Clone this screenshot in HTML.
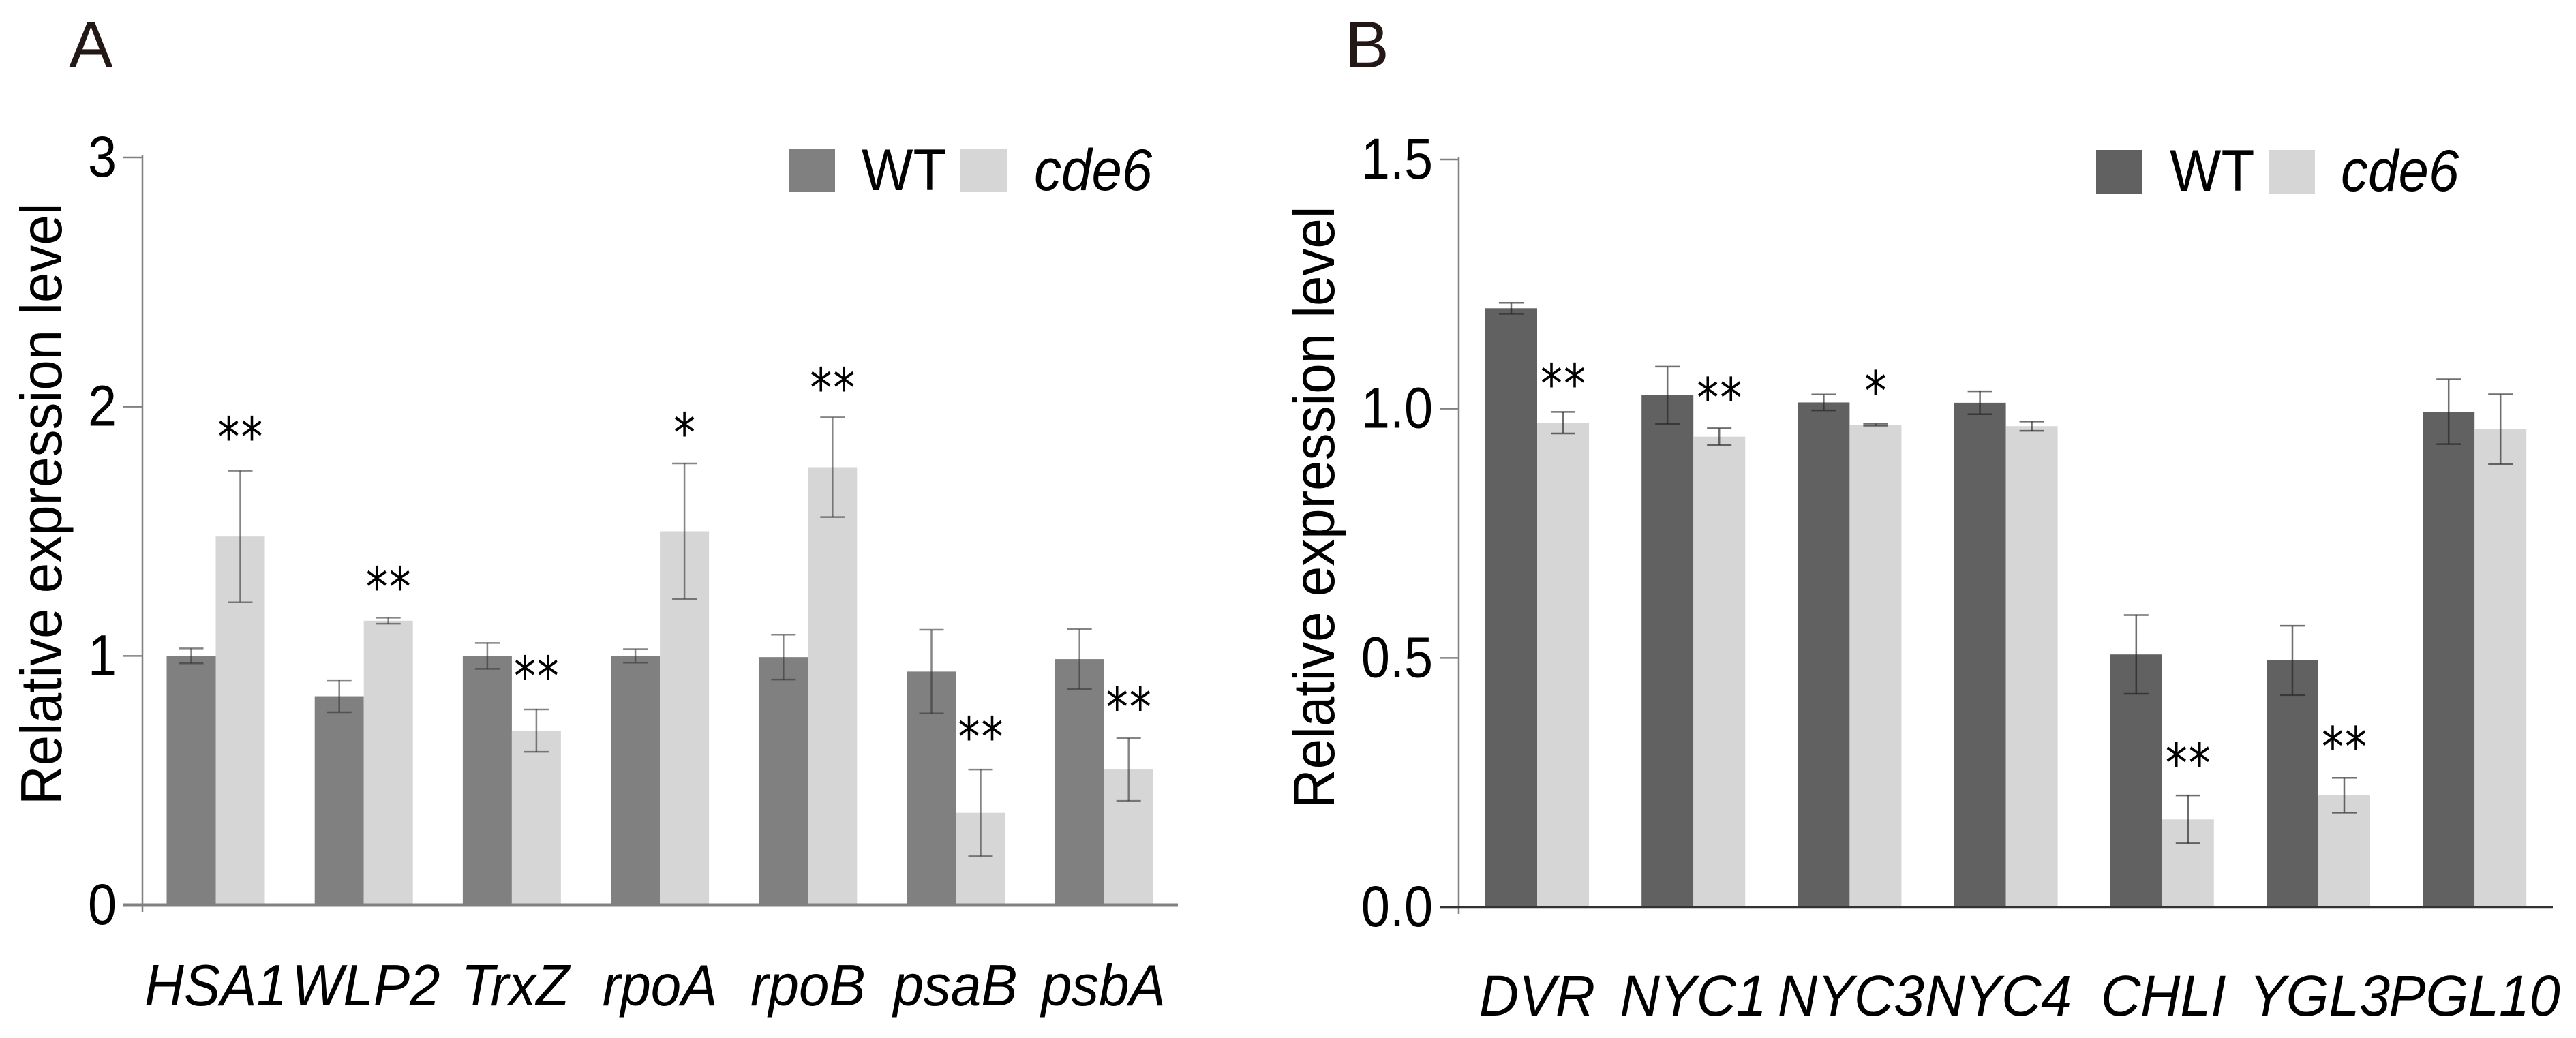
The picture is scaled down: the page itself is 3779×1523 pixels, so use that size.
<!DOCTYPE html>
<html lang="en">
<head>
<meta charset="utf-8">
<title>Relative expression level of WT and cde6</title>
<style>
html,body{margin:0;padding:0;background:#fff;}
svg{display:block;}
text{font-family:"Liberation Sans",Arial,sans-serif;fill:#000;}
</style>
</head>
<body>
<svg id="chart" xmlns="http://www.w3.org/2000/svg" width="3779" height="1523" viewBox="0 0 3779 1523">
  <rect x="0" y="0" width="3779" height="1523" fill="#ffffff"/>
  <text x="101" y="99" font-size="97" style="fill:#231815">A</text>
  <text x="1973" y="99" font-size="97" style="fill:#231815">B</text>
  <g id="panel-a"></g>
  <g id="panel-b"></g>
</svg>
<script>
// Panel A data
const categoriesA = ['HSA1','WLP2','TrxZ','rpoA','rpoB','psaB','psbA'];
const wtValuesA = [1.0,0.838,1.0,1.0,0.995,0.937,0.987];
const cde6ValuesA = [1.479,1.141,0.70,1.50,1.757,0.37,0.544];
const wtErrorsA = [0.03,0.064,0.052,0.027,0.09,0.168,0.12];
const cde6ErrorsA = [0.264,0.012,0.085,0.272,0.20,0.174,0.126];
const starsA = ['**','**','**','*','**','**','**'];
const starLevelsA = [1.913,1.311,0.953,1.93,2.11,0.71,0.828];
const yTicksA = [0,1,2,3];
const yTickLabelsA = ['0','1','2','3'];

// Panel B data
const categoriesB = ['DVR','NYC1','NYC3','NYC4','CHLI','YGL3','PGL10'];
const wtValuesB = [1.2015,1.027,1.0126,1.012,0.507,0.495,0.994];
const cde6ValuesB = [0.972,0.944,0.968,0.965,0.176,0.2245,0.959];
const wtErrorsB = [0.011,0.0575,0.016,0.023,0.079,0.0695,0.065];
const cde6ErrorsB = [0.0216,0.0167,0.002,0.0094,0.048,0.035,0.07];
const starsB = ['**','**','*','','**','**',''];
const starLevelsB = [1.067,1.039,1.053,0,0.306,0.339,0];
const yTicksB = [0,0.5,1.0,1.5];
const yTickLabelsB = ['0.0','0.5','1.0','1.5'];

const NS = 'http://www.w3.org/2000/svg';

function shape(parent, tag, props) {
  const el = document.createElementNS(NS, tag);
  for (const k in props) el.setAttribute(k, props[k]);
  parent.appendChild(el);
  return el;
}

function label(parent, str, x, y, size, sx, anchor, italic) {
  const el = document.createElementNS(NS, 'text');
  el.setAttribute('transform', 'translate(' + x + ',' + y + ') scale(' + sx + ',1)');
  el.setAttribute('font-size', size);
  el.setAttribute('text-anchor', anchor);
  if (italic) el.setAttribute('font-style', 'italic');
  el.textContent = str;
  parent.appendChild(el);
  return el;
}

function drawPanel(root, cfg, categories, wtValues, cde6Values, wtErrors, cde6Errors, stars, starLevels, yTicks, yTickLabels) {
  const yScale = v => cfg.y0 - (v / cfg.yMax) * (cfg.y0 - cfg.yTop);
  const xBand = i => cfg.xStart + i * cfg.step;

  // bars
  categories.forEach((cat, i) => {
    const x1 = xBand(i);
    const x2 = x1 + cfg.barW;
    const wtBar = shape(root, 'rect', {x: x1, y: yScale(wtValues[i]), width: cfg.barW, height: cfg.y0 - yScale(wtValues[i]), fill: cfg.wtColor});
    
    
    const mutBar = shape(root, 'rect', {x: x2, y: yScale(cde6Values[i]), width: cfg.barW, height: cfg.y0 - yScale(cde6Values[i]), fill: '#d5d6d5'});
    
    
  });

  // error bars
  const errorBar = (cx, v, e) => {
    const g = shape(root, 'g', {stroke: cfg.errColor, 'stroke-width': 2.5, 'stroke-opacity': cfg.errOpacity, fill: 'none'});
    shape(g, 'line', {x1: cx, x2: cx, y1: yScale(v + e), y2: yScale(v - e)});
    shape(g, 'line', {x1: cx - 18, x2: cx + 18, y1: yScale(v + e), y2: yScale(v + e)});
    shape(g, 'line', {x1: cx - 18, x2: cx + 18, y1: yScale(v - e), y2: yScale(v - e)});
    return g;
  };
  categories.forEach((cat, i) => {
    const x1 = xBand(i);
    const eWt = errorBar(x1 + cfg.barW / 2, wtValues[i], wtErrors[i]);
    
    
    const eMut = errorBar(x1 + cfg.barW * 1.5, cde6Values[i], cde6Errors[i]);
    
    
  });

  // axes
  const yAxis = shape(root, 'line', {x1: cfg.axisX, x2: cfg.axisX, y1: cfg.yTop - 3, y2: cfg.y0 + 10, stroke: '#808080', 'stroke-width': 2.5});
  
  

  yTicks.forEach((t, i) => {
    const y = yScale(t);
    const tick = shape(root, 'line', {x1: cfg.axisX - 28, x2: cfg.axisX, y1: y, y2: y, stroke: '#808080', 'stroke-width': 2.5});
    
    
    const tl = label(root, yTickLabels[i], cfg.axisX - 38, y + 28, 84, 0.9, 'end', false);
    
    
  });

  const xAxis = shape(root, 'line', {x1: cfg.axisX - 28, x2: cfg.xAxisEnd, y1: cfg.y0, y2: cfg.y0, stroke: cfg.baseColor, 'stroke-width': cfg.baseWidth});
  
  

  // category labels
  categories.forEach((cat, i) => {
    const nudge = cfg.catNudge[cat] || 0;
    const cl = label(root, cat, xBand(i) + cfg.barW + nudge, cfg.catBaseline, cfg.catSize, cfg.catScale, 'middle', true);
    
    
  });

  // significance stars
  stars.forEach((s, i) => {
    if (!s) return;
    const st = document.createElementNS(NS, 'text');
    const sx = xBand(i) + cfg.barW * 1.5 + 1;
    const sy = yScale(starLevels[i]) + 41;
    st.setAttribute('transform', 'translate(' + sx + ',' + sy + ') scale(0.8,1)');
    st.setAttribute('font-size', 80);
    st.setAttribute('letter-spacing', 2.5);
    st.setAttribute('text-anchor', 'middle');
    st.setAttribute('style', 'font-family:"DejaVu Sans",sans-serif');
    st.textContent = s;
    
    
    root.appendChild(st);
  });

  // y-axis title
  const yt = document.createElementNS(NS, 'text');
  yt.setAttribute('transform', 'translate(' + cfg.titleX + ',' + cfg.titleY + ') rotate(-90) scale(0.94,1)');
  yt.setAttribute('font-size', 85);
  yt.textContent = 'Relative expression level';
  
  
  root.appendChild(yt);

  // legend
  const sw1 = shape(root, 'rect', {x: cfg.leg.x1, y: cfg.leg.y, width: cfg.leg.w, height: cfg.leg.h, fill: cfg.wtColor});
  
  
  const lt1 = label(root, 'WT', cfg.leg.t1, cfg.leg.base, 86, 0.93, 'start', false);
  
  
  const sw2 = shape(root, 'rect', {x: cfg.leg.x2, y: cfg.leg.y, width: cfg.leg.w, height: cfg.leg.h, fill: '#d5d6d5'});
  
  
  const lt2 = label(root, 'cde6', cfg.leg.t2, cfg.leg.base, 86, 0.93, 'start', true);
  
  
}

drawPanel(document.getElementById('panel-a'), {
  y0: 1328, yTop: 231, yMax: 3, xStart: 244.5, step: 217.2, barW: 72, axisX: 209, xAxisEnd: 1728,
  wtColor: '#808080', errColor: '#333333', errOpacity: 0.6, baseColor: '#808080', baseWidth: 5,
  catBaseline: 1475, catSize: 85, catScale: 0.94, catNudge: {WLP2: 3, TrxZ: 5, psaB: -1, psbA: -1},
  titleX: 90, titleY: 1181,
  leg: {x1: 1157, x2: 1409, y: 218, w: 68, h: 64, t1: 1264, t2: 1517, base: 279}
}, categoriesA, wtValuesA, cde6ValuesA, wtErrorsA, cde6ErrorsA, starsA, starLevelsA, yTicksA, yTickLabelsA);

drawPanel(document.getElementById('panel-b'), {
  y0: 1331, yTop: 234, yMax: 1.5, xStart: 2179, step: 229.2, barW: 76, axisX: 2140, xAxisEnd: 3745,
  wtColor: '#616161', errColor: '#222222', errOpacity: 0.65, baseColor: '#333333', baseWidth: 2.5,
  catBaseline: 1490, catSize: 84, catScale: 0.96, catNudge: {NYC3: 2, NYC4: -11, CHLI: 2, YGL3: 2},
  titleX: 1957, titleY: 1186,
  leg: {x1: 3075, x2: 3328, y: 220, w: 68, h: 65, t1: 3183, t2: 3434, base: 280}
}, categoriesB, wtValuesB, cde6ValuesB, wtErrorsB, cde6ErrorsB, starsB, starLevelsB, yTicksB, yTickLabelsB);
</script>
</body>
</html>
